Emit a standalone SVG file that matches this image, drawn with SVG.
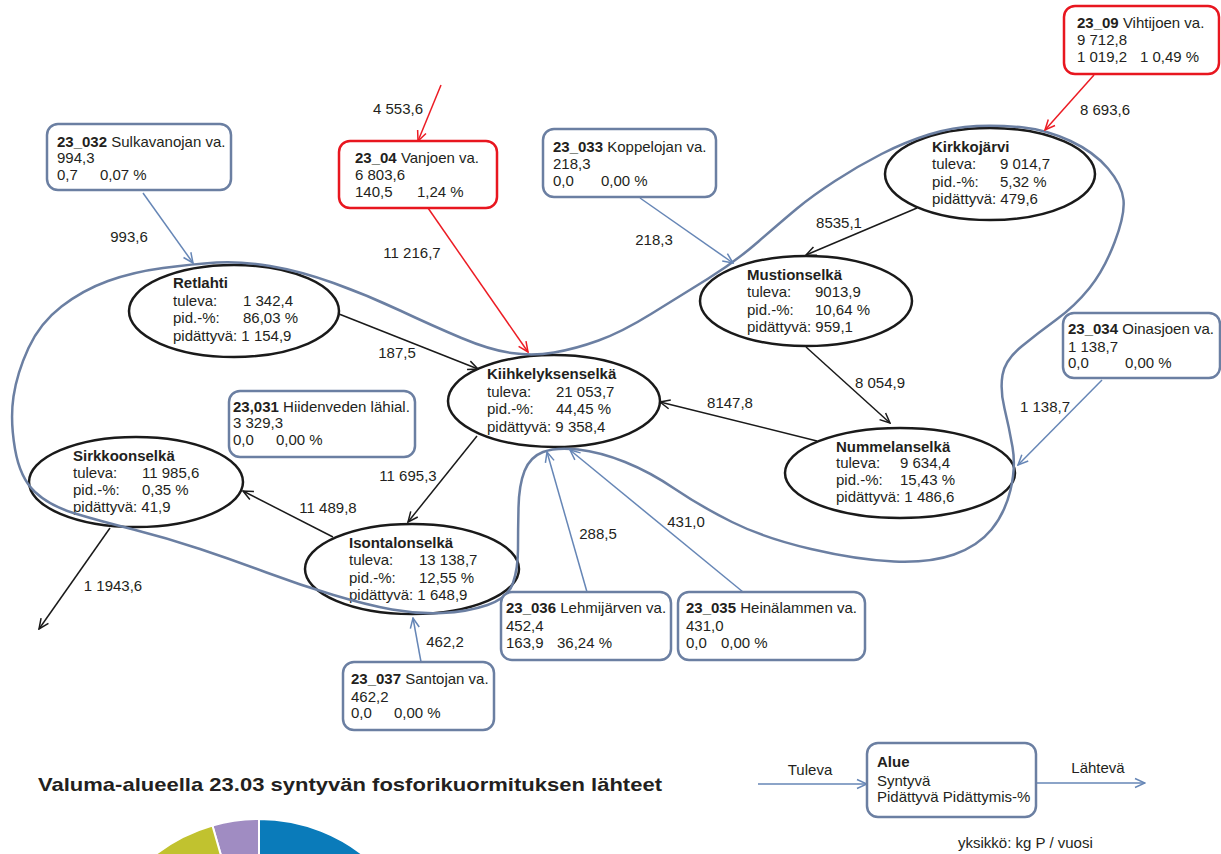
<svg xmlns="http://www.w3.org/2000/svg" width="1221" height="854" viewBox="0 0 1221 854">
<defs>
<style>
text{font-family:"Liberation Sans",Arial,sans-serif;font-size:15px;fill:#231f20}
.b{font-weight:bold}
.lbl{text-anchor:middle}
.box{fill:#fff;stroke:#6b7fa2;stroke-width:2.5}
.rbox{fill:#fff;stroke:#e8161f;stroke-width:2.5}
.ell{fill:#fff;stroke:#1a1a1a;stroke-width:2.5}
.k{stroke:#1a1a1a;stroke-width:1.5;fill:none;marker-end:url(#ak)}
.r{stroke:#ec1c24;stroke-width:1.5;fill:none;marker-end:url(#ar)}
.bl{stroke:#6686b6;stroke-width:1.5;fill:none;marker-end:url(#ab)}
.loop{fill:none;stroke:#6b7fa2;stroke-width:2.5}
</style>
<marker id="ak" viewBox="0 0 12 12" refX="11" refY="6" markerWidth="12" markerHeight="12" markerUnits="userSpaceOnUse" orient="auto"><path d="M1,1.5 L11,6 L1,10.5" fill="none" stroke="#1a1a1a" stroke-width="1.5"/></marker>
<marker id="ar" viewBox="0 0 12 12" refX="11" refY="6" markerWidth="12" markerHeight="12" markerUnits="userSpaceOnUse" orient="auto"><path d="M1,1.5 L11,6 L1,10.5" fill="none" stroke="#ec1c24" stroke-width="1.5"/></marker>
<marker id="ab" viewBox="0 0 12 12" refX="11" refY="6" markerWidth="12" markerHeight="12" markerUnits="userSpaceOnUse" orient="auto"><path d="M1,1.5 L11,6 L1,10.5" fill="none" stroke="#6686b6" stroke-width="1.5"/></marker>
</defs>
<rect width="1221" height="854" fill="#fff"/>

<g id="nodes-lakes">
<g id="retlahti"><ellipse class="ell" cx="234" cy="311" rx="105" ry="46"/>
<text x="173" y="288" class="b">Retlahti</text><text x="173" y="306">tuleva:</text><text x="243" y="306">1 342,4</text><text x="173" y="323">pid.-%:</text><text x="243" y="323">86,03 %</text><text x="173" y="341">pidättyvä: 1 154,9</text></g>
<g id="kiihkelyksenselka"><ellipse class="ell" cx="554" cy="401" rx="106" ry="46"/>
<text x="487" y="379" class="b">Kiihkelyksenselkä</text><text x="487" y="397">tuleva:</text><text x="556" y="397">21 053,7</text><text x="487" y="414">pid.-%:</text><text x="556" y="414">44,45 %</text><text x="487" y="432">pidättyvä: 9 358,4</text></g>
<g id="mustionselka"><ellipse class="ell" cx="806" cy="301" rx="106" ry="45"/>
<text x="747" y="280" class="b">Mustionselkä</text><text x="747" y="297">tuleva:</text><text x="815" y="297">9013,9</text><text x="747" y="315">pid.-%:</text><text x="815" y="315">10,64 %</text><text x="747" y="332">pidättyvä: 959,1</text></g>
<g id="kirkkojarvi"><ellipse class="ell" cx="990" cy="174" rx="105" ry="46"/>
<text x="932" y="152" class="b">Kirkkojärvi</text><text x="932" y="169">tuleva:</text><text x="1000" y="169">9 014,7</text><text x="932" y="187">pid.-%:</text><text x="1000" y="187">5,32 %</text><text x="932" y="204">pidättyvä: 479,6</text></g>
<g id="nummelanselka"><ellipse class="ell" cx="900" cy="473" rx="115" ry="45"/>
<text x="836" y="452" class="b">Nummelanselkä</text><text x="836" y="468">tuleva:</text><text x="900" y="468">9 634,4</text><text x="836" y="485">pid.-%:</text><text x="900" y="485">15,43 %</text><text x="836" y="502">pidättyvä: 1 486,6</text></g>
<g id="sirkkoonselka"><ellipse class="ell" cx="136" cy="482" rx="107" ry="45"/>
<text x="73" y="461" class="b">Sirkkoonselkä</text><text x="73" y="478">tuleva:</text><text x="142" y="478">11 985,6</text><text x="73" y="495">pid.-%:</text><text x="142" y="495">0,35 %</text><text x="73" y="512">pidättyvä: 41,9</text></g>
<g id="isontalonselka"><ellipse class="ell" cx="412" cy="569" rx="107" ry="45"/>
<text x="349" y="548" class="b">Isontalonselkä</text><text x="349" y="565">tuleva:</text><text x="419" y="565">13 138,7</text><text x="349" y="583">pid.-%:</text><text x="419" y="583">12,55 %</text><text x="349" y="600">pidättyvä: 1 648,9</text></g>
</g>

<g id="loop"><path class="loop" d="M163,268 Q193,264 216.5,262.5 Q240,261 270,266 Q300,271 333.5,283 Q367,295 400,310.5 Q433,326 461.5,338 Q490,350 511.5,353 Q533,356 554,352.5 Q575,349 598.5,340.5 Q622,332 651,314 Q680,296 707.5,279 Q735,262 758.5,241.5 Q782,221 797,208.5 Q812,196 835,181 Q858,166 881.5,154 Q905,142 929,134.5 Q953,127 976.5,126 Q1000,125 1023.5,127.5 Q1047,130 1070.5,141 Q1094,152 1108,168.5 Q1122,185 1123.5,200 Q1125,215 1114.5,242.5 Q1104,270 1089.5,288 Q1075,306 1056.5,319.5 Q1038,333 1021.5,346.5 Q1005,360 1002.5,375 Q1000,390 1004.5,408.5 Q1009,427 1012.5,447 Q1016,467 1010.5,490 Q1005,513 991.5,529.5 Q978,546 954,554.5 Q930,563 894,561.5 Q858,560 811,549 Q764,538 732,522 Q700,506 675,489 Q650,472 625,462 Q600,452 578,449.5 Q556,447 543,452 Q530,457 524.5,471 Q519,485 518.5,507.5 Q518,530 518,549 Q518,568 513,583 Q508,598 487.5,605 Q467,612 442,613 Q417,614 392,609.5 Q367,605 333.5,595 Q300,585 266.5,572.5 Q233,560 200,549 Q167,538 133.5,529.5 Q100,521 75,513.5 Q50,506 35,492 Q20,478 15,449 Q10,420 13.5,396.5 Q17,373 28.5,348 Q40,323 61.5,306.5 Q83,290 108,281 Q133,272 163,268 Z"/></g>

<g id="connectors">
<line class="k" x1="339" y1="314" x2="478" y2="369"/>
<line class="k" x1="917" y1="208" x2="806" y2="255"/>
<line class="k" x1="806" y1="347" x2="890" y2="423"/>
<line class="k" x1="817" y1="441" x2="660" y2="402"/>
<line class="k" x1="477" y1="436" x2="408" y2="522"/>
<line class="k" x1="333" y1="537" x2="243" y2="491"/>
<line class="k" x1="110" y1="528" x2="39" y2="629"/>
<line class="r" x1="441" y1="85" x2="418" y2="141"/>
<line class="r" x1="428" y1="208" x2="528" y2="352"/>
<line class="r" x1="1094" y1="75" x2="1045" y2="130"/>
<line class="bl" x1="143" y1="193" x2="193" y2="263"/>
<line class="bl" x1="640" y1="198" x2="733" y2="263"/>
<line class="bl" x1="1102" y1="380" x2="1018" y2="465"/>
<line class="bl" x1="587" y1="592" x2="547" y2="452"/>
<line class="bl" x1="743" y1="592" x2="570" y2="450"/>
<line class="bl" x1="421" y1="662" x2="413" y2="618"/>
<line class="bl" x1="758" y1="784" x2="867" y2="784"/>
<line class="bl" x1="1036" y1="783" x2="1145" y2="783"/>
<text class="lbl" x="398" y="114">4 553,6</text>
<text class="lbl" x="129" y="242">993,6</text>
<text class="lbl" x="412" y="258">11 216,7</text>
<text class="lbl" x="654" y="245">218,3</text>
<text class="lbl" x="839" y="228">8535,1</text>
<text class="lbl" x="1105" y="115">8 693,6</text>
<text class="lbl" x="397" y="358">187,5</text>
<text class="lbl" x="880" y="388">8 054,9</text>
<text class="lbl" x="730" y="408">8147,8</text>
<text class="lbl" x="1045" y="412">1 138,7</text>
<text class="lbl" x="408" y="481">11 695,3</text>
<text class="lbl" x="328" y="513">11 489,8</text>
<text class="lbl" x="113" y="591">1 1943,6</text>
<text class="lbl" x="598" y="539">288,5</text>
<text class="lbl" x="686" y="527">431,0</text>
<text class="lbl" x="445" y="647">462,2</text>
<text class="lbl" x="810" y="775">Tuleva</text>
<text class="lbl" x="1098" y="773">Lähtevä</text>
</g>

<g id="nodes-areas">
<g id="a23_032"><rect class="box" x="47" y="124" width="184" height="66" rx="11"/>
<text x="57" y="147"><tspan class="b">23_032</tspan> Sulkavanojan va.</text><text x="57" y="163">994,3</text><text x="57" y="180">0,7</text><text x="100" y="180">0,07 %</text></g>
<g id="a23_04"><rect class="rbox" x="339" y="141" width="158" height="67" rx="11"/>
<text x="355" y="163"><tspan class="b">23_04</tspan> Vanjoen va.</text><text x="355" y="180">6 803,6</text><text x="355" y="197">140,5</text><text x="417" y="197">1,24 %</text></g>
<g id="a23_033"><rect class="box" x="543" y="129" width="173" height="68" rx="11"/>
<text x="553" y="152"><tspan class="b">23_033</tspan> Koppelojan va.</text><text x="553" y="169">218,3</text><text x="553" y="186">0,0</text><text x="601" y="186">0,00 %</text></g>
<g id="a23_09"><rect class="rbox" x="1064" y="6" width="155" height="68" rx="11"/>
<text x="1077" y="28"><tspan class="b">23_09</tspan> Vihtijoen va.</text><text x="1077" y="45">9 712,8</text><text x="1077" y="62">1 019,2</text><text x="1140" y="62">1 0,49 %</text></g>
<g id="a23_034"><rect class="box" x="1063" y="313" width="157" height="65" rx="11"/>
<text x="1068" y="334"><tspan class="b">23_034</tspan> Oinasjoen va.</text><text x="1068" y="352">1 138,7</text><text x="1068" y="368">0,0</text><text x="1125" y="368">0,00 %</text></g>
<g id="a23_031"><rect class="box" x="229" y="391" width="186" height="66" rx="11"/>
<text x="233" y="412"><tspan class="b">23,031</tspan> Hiidenveden lähial.</text><text x="233" y="428">3 329,3</text><text x="233" y="445">0,0</text><text x="276" y="445">0,00 %</text></g>
<g id="a23_036"><rect class="box" x="501" y="592" width="170" height="68" rx="11"/>
<text x="506" y="613"><tspan class="b">23_036</tspan> Lehmijärven va.</text><text x="506" y="631">452,4</text><text x="506" y="648">163,9</text><text x="557" y="648">36,24 %</text></g>
<g id="a23_035"><rect class="box" x="678" y="592" width="187" height="68" rx="11"/>
<text x="686" y="613"><tspan class="b">23_035</tspan> Heinälammen va.</text><text x="686" y="631">431,0</text><text x="686" y="648">0,0</text><text x="721" y="648">0,00 %</text></g>
<g id="a23_037"><rect class="box" x="343" y="662" width="151" height="68" rx="11"/>
<text x="351" y="684"><tspan class="b">23_037</tspan> Santojan va.</text><text x="351" y="702">462,2</text><text x="351" y="718">0,0</text><text x="394" y="718">0,00 %</text></g>
<g id="legend"><rect class="box" x="867" y="743" width="169" height="74" rx="11"/>
<text x="877" y="767" class="b">Alue</text><text x="877" y="786">Syntyvä</text><text x="877" y="802">Pidättyvä Pidättymis-%</text></g>
</g>

<text x="958" y="848">yksikkö: kg P / vuosi</text>
<text x="38" y="791" class="b" style="font-size:19px" textLength="624" lengthAdjust="spacingAndGlyphs">Valuma-alueella 23.03 syntyvän fosforikuormituksen lähteet</text>

<g id="pie" stroke="#fff" stroke-width="2">
<path d="M259,988 L259,819 A169,169 0 0 1 428,988 Z" fill="#0a7bba"/>
<path d="M259,988 L212.4,825.5 A169,169 0 0 1 259,819 Z" fill="#a08cc2"/>
<path d="M259,988 L112.6,903.5 A169,169 0 0 1 212.4,825.5 Z" fill="#c1c22f"/>
</g>
</svg>
